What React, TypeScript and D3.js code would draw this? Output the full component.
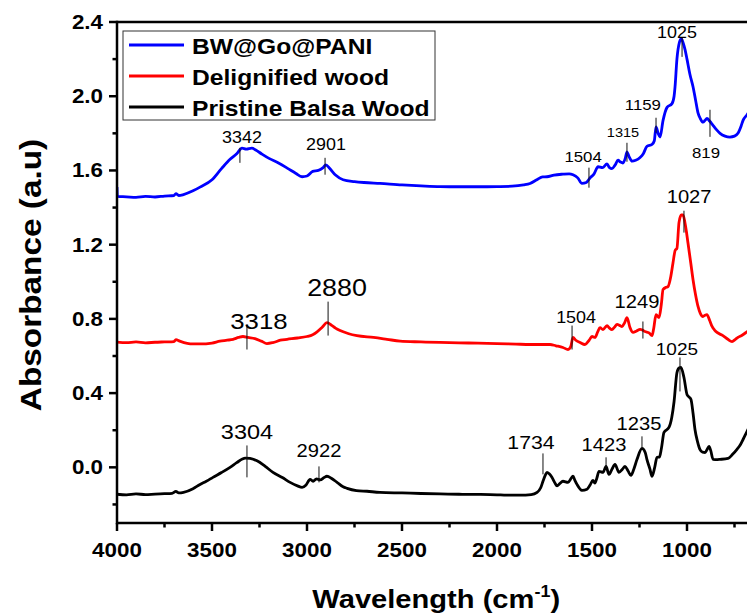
import React from "react";
import * as d3 from "d3";

// ---------- data ----------
const blueW = [4000, 3998, 3950, 3900, 3850, 3800, 3750, 3700, 3690, 3675, 3650, 3600, 3563, 3500, 3450, 3405, 3370, 3342, 3320, 3290, 3270, 3240, 3200, 3150, 3100, 3060, 3026, 3000, 2970, 2940, 2915, 2901, 2880, 2850, 2810, 2750, 2700, 2616, 2500, 2400, 2300, 2200, 2100, 2000, 1920, 1860, 1826, 1790, 1760, 1737, 1700, 1653, 1620, 1600, 1575, 1553, 1530, 1510, 1490, 1468, 1445, 1421, 1408, 1395, 1378, 1363, 1350, 1337, 1325, 1316, 1305, 1289, 1270, 1247, 1230, 1211, 1184, 1172, 1163, 1152, 1142, 1126, 1105, 1079, 1068, 1063, 1053, 1040, 1030, 1021, 1010, 1000, 985, 968, 955, 942, 930, 916, 905, 895, 880, 868, 845, 826, 800, 774, 750, 732, 715, 705, 684, 650, 600];
const blueA = [1.51, 1.46, 1.458, 1.455, 1.46, 1.457, 1.462, 1.465, 1.475, 1.465, 1.47, 1.49, 1.51, 1.55, 1.61, 1.66, 1.69, 1.72, 1.715, 1.72, 1.71, 1.69, 1.665, 1.64, 1.61, 1.585, 1.566, 1.57, 1.595, 1.6, 1.615, 1.63, 1.61, 1.575, 1.55, 1.54, 1.535, 1.53, 1.522, 1.517, 1.513, 1.512, 1.512, 1.513, 1.515, 1.522, 1.53, 1.55, 1.565, 1.566, 1.575, 1.58, 1.582, 1.577, 1.56, 1.53, 1.535, 1.56, 1.58, 1.62, 1.615, 1.635, 1.615, 1.61, 1.63, 1.655, 1.645, 1.64, 1.665, 1.7, 1.675, 1.65, 1.655, 1.67, 1.69, 1.73, 1.74, 1.76, 1.835, 1.8, 1.78, 1.87, 1.94, 1.96, 2.0, 2.05, 2.2, 2.29, 2.31, 2.29, 2.25, 2.2, 2.12, 2.05, 1.98, 1.91, 1.88, 1.86, 1.87, 1.88, 1.865, 1.85, 1.82, 1.8, 1.785, 1.78, 1.785, 1.8, 1.84, 1.87, 1.9, 1.95, 2.0];

const redW = [4000, 3950, 3900, 3850, 3800, 3750, 3700, 3690, 3670, 3630, 3600, 3563, 3500, 3458, 3420, 3389, 3360, 3337, 3310, 3274, 3240, 3211, 3180, 3140, 3105, 3050, 3000, 2970, 2947, 2920, 2895, 2870, 2850, 2826, 2780, 2737, 2650, 2579, 2510, 2400, 2300, 2200, 2100, 2000, 1900, 1826, 1721, 1690, 1653, 1626, 1612, 1600, 1585, 1563, 1537, 1515, 1500, 1484, 1470, 1458, 1442, 1421, 1408, 1395, 1382, 1368, 1355, 1342, 1328, 1316, 1300, 1284, 1265, 1247, 1235, 1221, 1200, 1184, 1175, 1163, 1147, 1135, 1126, 1110, 1100, 1085, 1074, 1062, 1053, 1042, 1030, 1021, 1011, 1003, 995, 980, 968, 955, 942, 930, 916, 905, 895, 880, 868, 855, 842, 811, 785, 763, 745, 732, 710, 689, 660];
const redA = [0.675, 0.672, 0.676, 0.671, 0.674, 0.676, 0.678, 0.688, 0.68, 0.668, 0.665, 0.665, 0.67, 0.68, 0.685, 0.69, 0.7, 0.705, 0.7, 0.694, 0.68, 0.667, 0.672, 0.685, 0.69, 0.697, 0.705, 0.715, 0.73, 0.755, 0.78, 0.765, 0.75, 0.737, 0.72, 0.71, 0.7, 0.69, 0.68, 0.676, 0.673, 0.671, 0.669, 0.667, 0.664, 0.662, 0.662, 0.655, 0.646, 0.635, 0.65, 0.7, 0.685, 0.673, 0.662, 0.685, 0.705, 0.7, 0.73, 0.753, 0.742, 0.764, 0.75, 0.742, 0.755, 0.77, 0.765, 0.759, 0.78, 0.807, 0.753, 0.727, 0.735, 0.743, 0.74, 0.732, 0.725, 0.71, 0.75, 0.823, 0.807, 0.88, 0.958, 0.97, 0.974, 1.03, 1.1, 1.17, 1.18, 1.32, 1.36, 1.36, 1.32, 1.27, 1.21, 1.1, 1.01, 0.93, 0.867, 0.83, 0.813, 0.82, 0.823, 0.79, 0.759, 0.74, 0.727, 0.71, 0.69, 0.678, 0.69, 0.7, 0.712, 0.727, 0.75];

const blackW = [4000, 3950, 3900, 3850, 3800, 3750, 3710, 3690, 3675, 3650, 3600, 3563, 3530, 3495, 3450, 3405, 3370, 3340, 3326, 3300, 3263, 3220, 3179, 3130, 3089, 3050, 3026, 3005, 2984, 2968, 2950, 2930, 2910, 2895, 2870, 2842, 2810, 2789, 2740, 2684, 2616, 2500, 2400, 2300, 2200, 2100, 2000, 1950, 1879, 1820, 1789, 1770, 1758, 1745, 1737, 1725, 1711, 1695, 1684, 1670, 1653, 1626, 1610, 1600, 1590, 1579, 1553, 1526, 1510, 1495, 1485, 1475, 1463, 1442, 1426, 1411, 1395, 1379, 1358, 1340, 1326, 1310, 1295, 1280, 1263, 1237, 1220, 1211, 1195, 1184, 1170, 1158, 1145, 1135, 1121, 1095, 1080, 1068, 1053, 1042, 1032, 1016, 1000, 990, 979, 968, 958, 945, 932, 918, 905, 895, 884, 875, 863, 840, 826, 784, 760, 737, 720, 705, 684, 650];
const blackA = [-0.145, -0.148, -0.143, -0.147, -0.144, -0.142, -0.14, -0.13, -0.138, -0.135, -0.115, -0.092, -0.075, -0.054, -0.028, 0.0, 0.025, 0.045, 0.05, 0.048, 0.035, 0.005, -0.027, -0.055, -0.081, -0.1, -0.108, -0.095, -0.065, -0.075, -0.062, -0.068, -0.055, -0.048, -0.06, -0.081, -0.105, -0.113, -0.125, -0.129, -0.135, -0.138, -0.141, -0.143, -0.145, -0.146, -0.148, -0.15, -0.15, -0.147, -0.135, -0.11, -0.075, -0.04, -0.027, -0.035, -0.054, -0.085, -0.1, -0.088, -0.075, -0.081, -0.06, -0.048, -0.07, -0.092, -0.124, -0.118, -0.095, -0.07, -0.085, -0.06, -0.022, -0.027, 0.005, -0.038, -0.01, 0.016, -0.027, -0.01, 0.005, -0.02, -0.043, -0.01, 0.043, 0.102, 0.08, 0.043, -0.01, -0.048, 0.0, 0.054, 0.055, 0.1, 0.188, 0.215, 0.27, 0.355, 0.51, 0.535, 0.538, 0.484, 0.393, 0.38, 0.366, 0.29, 0.204, 0.14, 0.097, 0.082, 0.08, 0.095, 0.113, 0.09, 0.043, 0.042, 0.043, 0.048, 0.07, 0.097, 0.12, 0.15, 0.194, 0.26];

const seriesNames = ["BW@Go@PANI", "Delignified wood", "Pristine Balsa Wood"];
const seriesColors = ["#0000ff", "#ff0000", "#000000"];

const xTicks = [4000, 3500, 3000, 2500, 2000, 1500, 1000];
const yTicks = [0.0, 0.4, 0.8, 1.2, 1.6, 2.0, 2.4];

// peak annotations: label, tick wavenumber, tick from/to absorbance, label wavenumber, label baseline absorbance, font size
const peakLabels = ["3342", "2901", "1504", "1315", "1159", "819", "1025", "3318", "2880", "1504", "1249", "1027", "3304", "2922", "1734", "1423", "1235", "1025"];
const peakTickW = [3353, 2905, 1516, 1316, 1163, 879, 1026, 3316, 2889, 1605, 1232, 1016, 3316, 2937, 1758, 1426, 1237, 1037];
const peakTickA0 = [1.722, 1.668, 1.615, 1.749, 1.884, 1.927, 2.314, 0.77, 0.893, 0.764, 0.786, 1.383, 0.118, 0.005, 0.075, 0.054, 0.167, 0.592];
const peakTickA1 = [1.641, 1.577, 1.507, 1.647, 1.803, 1.781, 2.212, 0.635, 0.71, 0.635, 0.694, 1.265, -0.054, -0.081, -0.038, 0.0, 0.108, 0.409];
const peakTextW = [3342, 2900, 1547, 1337, 1232, 900, 1053, 3253, 2842, 1584, 1263, 989, 3316, 2937, 1821, 1437, 1253, 1053];
const peakTextA = [1.749, 1.711, 1.647, 1.781, 1.927, 1.668, 2.314, 0.748, 0.926, 0.78, 0.856, 1.426, 0.151, 0.054, 0.097, 0.086, 0.199, 0.608];
const peakSize = [16, 16, 15, 13, 15, 15, 16, 23, 24, 16, 18, 18, 21, 18, 19, 18, 18, 17];

// ---------- layout ----------
const W = 747, H = 613;
const left = 117, top = 22, bottom = 523;
const SX = 1.12; // horizontal text stretch
const FONT = "'Liberation Sans', Arial, Helvetica, sans-serif";

const x = d3.scaleLinear().domain([4000, 400]).range([left, left + 3600 * 0.19]);
const y = d3.scaleLinear().domain([-0.3, 2.4]).range([bottom, top]);
const right = x(400);

const T = ({ x: tx, y: ty, size, bold, anchor, children, fill = "#000" }: any) => (
  <text
    transform={`translate(${tx},${ty}) scale(${SX},1)`}
    fontFamily={FONT}
    fontSize={size}
    fontWeight={bold ? "bold" : "normal"}
    textAnchor={anchor || "middle"}
    fill={fill}
  >
    {children}
  </text>
);

export default function App() {
  const line = d3
    .line<[number, number]>()
    .x((d) => x(d[0]))
    .y((d) => y(d[1]))
    .curve(d3.curveMonotoneX);

  const series = [
    { w: blueW, a: blueA },
    { w: redW, a: redA },
    { w: blackW, a: blackA },
  ];

  const xMinor = d3.range(3750, 400, -500);
  const yMinor = d3.range(-0.2, 2.4, 0.4);

  return (
    <svg
      width={W}
      height={H}
      style={{ position: "absolute", left: 0, top: 0, background: "#fff" }}
    >
      <defs>
        <clipPath id="plot">
          <rect x={left} y={top} width={right - left} height={bottom - top} />
        </clipPath>
      </defs>
      <rect x={0} y={0} width={W} height={H} fill="#fff" />

      {/* spectra */}
      <g clipPath="url(#plot)">
        {series.map((s, i) => (
          <path
            key={i}
            d={line(s.w.map((w, j) => [w, s.a[j]]) as [number, number][]) || ""}
            fill="none"
            stroke={seriesColors[i]}
            strokeWidth={2.8}
            strokeLinejoin="round"
          />
        ))}
      </g>

      {/* peak annotations */}
      {peakLabels.map((lab, i) => (
        <g key={i}>
          <line
            x1={x(peakTickW[i])}
            x2={x(peakTickW[i])}
            y1={y(peakTickA0[i])}
            y2={y(peakTickA1[i])}
            stroke="#111"
            strokeWidth={1}
          />
          <T x={x(peakTextW[i])} y={y(peakTextA[i])} size={peakSize[i]}>
            {lab}
          </T>
        </g>
      ))}

      {/* frame */}
      <line x1={left} x2={right} y1={top} y2={top} stroke="#000" strokeWidth={2.5} />
      <line x1={left} x2={right} y1={bottom} y2={bottom} stroke="#000" strokeWidth={2.5} />
      <line x1={left} x2={left} y1={top - 1.25} y2={bottom + 1.25} stroke="#000" strokeWidth={2.5} />

      {/* x ticks */}
      {xTicks.map((t) => (
        <g key={t}>
          <line x1={x(t)} x2={x(t)} y1={bottom} y2={bottom + 8} stroke="#000" strokeWidth={2.5} />
          <T x={x(t)} y={bottom + 34} size={20} bold>
            {t}
          </T>
        </g>
      ))}
      {xMinor.map((t) => (
        <line key={t} x1={x(t)} x2={x(t)} y1={bottom} y2={bottom + 4.5} stroke="#000" strokeWidth={2.5} />
      ))}

      {/* y ticks */}
      {yTicks.map((t) => (
        <g key={t}>
          <line x1={left - 8} x2={left} y1={y(t)} y2={y(t)} stroke="#000" strokeWidth={2.5} />
          <T x={left - 14} y={y(t) + 7} size={20} bold anchor="end">
            {t.toFixed(1)}
          </T>
        </g>
      ))}
      {yMinor.map((t) => (
        <line key={t} x1={left - 4.5} x2={left} y1={y(t)} y2={y(t)} stroke="#000" strokeWidth={2.5} />
      ))}

      {/* axis titles */}
      <text
        transform={`translate(${x(2320)},${608}) scale(${SX},1)`}
        fontFamily={FONT}
        fontSize={26}
        fontWeight="bold"
        textAnchor="middle"
      >
        Wavelength (cm
        <tspan fontSize={16} dy={-11}>-1</tspan>
        <tspan dy={11}>)</tspan>
      </text>
      <text
        transform={`translate(41,${275}) rotate(-90) scale(1.15,1)`}
        fontFamily={FONT}
        fontSize={29}
        fontWeight="bold"
        textAnchor="middle"
      >
        Absorbance (a.u)
      </text>

      {/* legend */}
      <rect x={123} y={31} width={312} height={89} fill="#fff" stroke="#333" strokeWidth={1} />
      {seriesNames.map((n, i) => (
        <g key={n}>
          <line x1={129} x2={184} y1={45 + i * 31} y2={45 + i * 31} stroke={seriesColors[i]} strokeWidth={3} />
          <T x={192} y={45 + i * 31 + 9} size={22} bold anchor="start">
            {n}
          </T>
        </g>
      ))}
    </svg>
  );
}
